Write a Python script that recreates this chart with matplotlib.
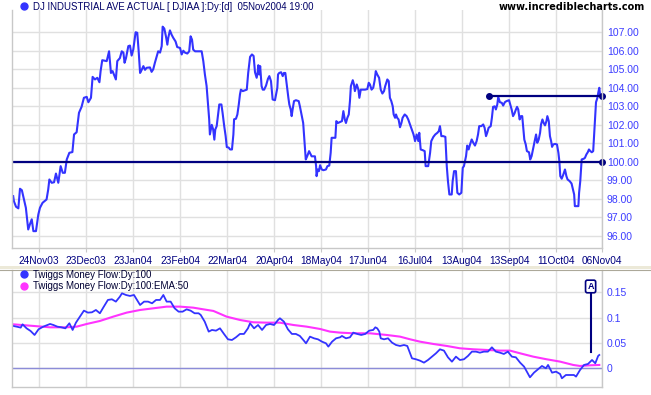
import matplotlib
matplotlib.use("Agg")
import matplotlib.pyplot as plt
from matplotlib.lines import Line2D
from matplotlib.patches import Rectangle

# x is the trading-day index, day 0 = 07Nov03
price_day = [0.0, 0.3, 1.2, 2.2, 2.9, 3.7, 4.6, 5.4, 6.4, 7.1, 7.9, 8.6, 9.7, 10.7, 11.4,
             12.5, 14.2, 14.9, 15.4, 16.4, 17.4, 18.2, 19.2, 20.2, 21.1, 22.0, 22.8, 23.9,
             25.2, 25.9, 27.0, 28.0, 29.1, 30.1, 31.3, 32.0, 33.1, 33.8, 34.8, 35.8, 36.7,
             37.2, 37.9, 39.8, 40.8, 41.6, 42.3, 42.9, 43.7, 44.3, 45.4, 46.2, 46.9, 47.4,
             48.0, 49.0, 49.7, 50.4, 51.1, 51.7, 52.1, 52.8, 53.4, 54.0, 54.7, 55.4, 56.1,
             56.8, 58.2, 58.9, 59.6, 60.3, 61.1, 61.7, 62.5, 63.2, 63.6, 64.3, 65.0, 65.6,
             66.0, 66.7, 67.4, 68.1, 69.1, 69.8, 71.0, 71.7, 72.4, 73.1, 74.1, 74.9, 75.5,
             76.1, 76.6, 77.4, 80.2, 80.9, 81.6, 82.3, 82.9, 83.4, 83.7, 84.5, 85.1, 85.6,
             86.0, 86.6, 87.1, 87.7, 88.6, 89.1, 89.8, 90.4, 90.9, 91.7, 92.3, 93.1, 93.7,
             94.0, 94.8, 95.4, 96.0, 96.5, 96.9, 97.7, 98.6, 99.4, 100.0, 100.8, 101.6,
             102.3, 102.9, 103.6, 104.0, 104.3, 104.7, 105.1, 105.7, 106.2, 106.8, 107.6,
             108.4, 109.0, 109.7, 110.4, 111.4, 112.4, 112.7, 113.2, 114.0, 114.7, 115.2,
             115.8, 116.4, 117.1, 117.5, 118.1, 118.5, 118.9, 119.5, 120.3, 121.5, 122.0,
             122.8, 123.4, 123.9, 124.5, 125.1, 125.9, 126.6, 127.0, 128.4, 128.9, 129.1,
             129.6, 130.1, 130.6, 131.3, 132.0, 133.1, 133.7, 134.5, 135.1, 135.5, 137.1,
             137.5, 138.2, 139.1, 139.9, 140.5, 141.1, 141.6, 142.2, 142.8, 143.3, 143.7,
             144.5, 145.0, 145.4, 146.2, 146.9, 147.3, 147.9, 149.7, 150.7, 151.3, 151.8,
             152.5, 153.2, 153.8, 154.3, 154.9, 155.7, 156.4, 157.1, 157.8, 158.3, 159.2,
             159.8, 160.3, 160.9, 161.5, 161.9, 162.5, 162.9, 163.4, 164.0, 164.6, 165.2,
             165.7, 166.6, 167.4, 168.1, 168.9, 169.6, 170.3, 170.7, 171.0, 171.7, 172.4,
             172.8, 173.4, 174.3, 175.1, 175.5, 176.6, 177.4, 177.9, 178.8, 179.6, 180.5,
             181.1, 181.6, 182.2, 183.0, 183.9, 184.5, 185.0, 185.6, 186.6, 187.0, 187.6,
             188.4, 189.0, 189.8, 190.7, 191.3, 191.8, 192.7, 193.2, 193.8, 194.4, 195.1,
             195.8, 196.5, 197.2, 197.8, 198.3, 199.2, 200.0, 200.6, 201.2, 201.7, 202.3,
             203.2, 203.7, 204.2, 204.9, 205.4, 206.0, 206.4, 207.1, 207.9, 208.5, 209.2,
             209.9, 211.0, 211.5, 212.1, 212.7, 213.3, 213.8, 214.4, 214.9, 215.5, 216.1,
             216.6, 217.0, 217.5, 218.1, 218.6, 219.5, 220.0, 220.6, 221.3, 221.9, 222.5,
             223.0, 223.6, 224.2, 224.6, 225.2, 225.7, 226.3, 226.9, 227.3, 227.9, 228.4,
             228.9, 229.3, 229.8, 230.6, 231.4, 232.0, 232.4, 232.8, 233.4, 234.1, 234.8,
             235.4, 235.9, 236.8, 237.6, 238.2, 238.7, 239.0, 240.5, 240.8, 241.3, 241.9,
             242.8, 243.3, 243.9, 244.5, 245.0, 245.6, 246.2, 246.8, 247.0, 247.6, 248.0,
             248.6, 249.0, 249.4, 249.7]
price_val = [98.15, 97.88, 97.58, 97.49, 98.55, 98.47, 97.97, 97.52, 96.35, 96.62, 96.90,
             96.26, 96.26, 97.16, 97.52, 97.79, 97.97, 98.50, 99.05, 98.87, 98.90, 99.37,
             98.87, 99.77, 99.41, 99.41, 100.13, 100.49, 100.53, 101.48, 101.60, 102.65,
             102.97, 103.46, 103.51, 103.22, 103.46, 104.59, 104.45, 104.54, 104.30, 104.90,
             105.49, 105.44, 105.97, 104.80, 104.90, 104.70, 104.45, 105.44, 105.60, 105.97,
             105.90, 105.35, 105.60, 106.25, 106.28, 105.74, 106.06, 106.60, 107.00, 106.97,
             105.97, 104.80, 104.97, 105.17, 104.97, 105.08, 105.10, 104.86, 105.00, 105.35,
             105.70, 105.97, 105.90, 106.25, 107.30, 107.20, 106.78, 106.33, 106.70, 107.10,
             106.87, 106.70, 106.50, 106.20, 106.15, 105.80, 106.00, 105.90, 105.85, 105.97,
             106.78, 106.60, 106.06, 105.97, 105.97, 105.44, 104.70, 104.10, 103.10, 102.30,
             101.48, 102.00, 101.75, 101.20, 101.75, 101.93, 102.47, 103.10, 103.10, 102.65,
             101.93, 101.40, 100.80, 100.77, 100.67, 100.67, 101.48, 102.30, 102.33, 102.56,
             103.10, 103.64, 103.90, 103.82, 103.86, 103.90, 104.80, 105.67, 105.80, 105.72,
             104.84, 104.54, 104.80, 105.22, 104.72, 105.17, 104.09, 103.90, 103.90, 104.12,
             104.48, 104.63, 104.36, 103.37, 103.33, 104.00, 104.72, 104.80, 104.84, 104.63,
             104.80, 104.80, 104.18, 103.46, 103.10, 102.83, 102.47, 102.83, 103.28, 103.33,
             103.28, 103.00, 102.47, 102.10, 101.20, 100.13, 100.30, 100.58, 100.40, 100.30,
             100.30, 99.77, 99.23, 99.59, 99.50, 99.82, 99.59, 99.55, 99.59, 99.77, 99.80,
             100.49, 101.30, 101.30, 102.20, 102.10, 102.15, 102.20, 102.74, 102.29, 102.10,
             102.38, 102.56, 103.28, 104.09, 104.41, 104.18, 103.82, 104.18, 103.90, 103.46,
             103.90, 103.90, 103.93, 104.27, 104.18, 103.90, 104.00, 104.39, 104.90, 104.72,
             104.54, 103.90, 103.69, 103.82, 104.09, 104.45, 104.36, 103.46, 103.28, 103.00,
             102.56, 102.38, 102.56, 102.38, 102.29, 101.87, 102.10, 102.38, 102.56, 102.47,
             102.29, 102.00, 101.75, 101.50, 101.30, 101.12, 101.48, 101.12, 101.57, 100.67,
             100.63, 100.58, 99.77, 99.77, 100.49, 101.12, 101.35, 101.48, 101.57, 101.66,
             101.93, 101.39, 101.39, 101.35, 99.77, 98.96, 98.24, 98.24, 98.96, 99.50, 99.50,
             98.33, 98.24, 98.33, 99.68, 99.77, 100.31, 100.88, 100.67, 100.94, 101.21,
             101.03, 100.88, 101.12, 101.48, 101.93, 101.93, 102.02, 101.84, 101.39, 101.57,
             101.84, 101.93, 102.38, 102.97, 103.00, 102.83, 103.10, 103.51, 103.22, 103.19,
             103.04, 103.22, 103.28, 103.33, 103.10, 102.83, 102.47, 102.61, 102.79, 102.97,
             102.83, 102.29, 102.47, 102.47, 101.93, 101.20, 100.94, 100.58, 100.52, 100.13,
             100.31, 100.76, 101.12, 101.48, 101.03, 101.20, 101.57, 102.02, 102.29, 102.11,
             101.97, 102.20, 102.47, 102.20, 101.39, 101.12, 100.81, 100.94, 100.97, 100.94,
             100.49, 100.04, 99.23, 99.09, 99.32, 99.59, 99.23, 99.05, 98.96, 98.83, 98.50,
             98.24, 97.61, 97.61, 98.33, 98.96, 100.13, 100.17, 100.22, 100.40, 100.52,
             100.67, 100.58, 100.52, 100.58, 101.03, 102.47, 103.22, 103.46, 103.76, 104.00,
             103.64]

tmf_day = [0.0, 1.5, 3.2, 4.0, 5.7, 7.4, 9.1, 10.8, 12.8, 15.7, 17.1, 18.8, 20.5, 22.2,
           23.9, 25.3, 26.7, 28.4, 30.1, 31.8, 33.5, 35.2, 36.9, 38.4, 40.3, 42.0, 43.7,
           45.4, 46.3, 48.0, 49.7, 51.4, 53.1, 54.0, 55.7, 57.4, 59.1, 60.8, 62.5, 63.9,
           65.3, 67.0, 68.7, 70.4, 72.1, 73.8, 75.5, 77.2, 78.9, 79.8, 81.5, 83.2, 84.6,
           86.3, 88.0, 89.7, 91.4, 93.1, 94.8, 96.5, 98.2, 99.9, 100.8, 102.5, 104.2, 105.9,
           107.6, 109.3, 111.0, 112.7, 113.5, 115.2, 116.9, 118.6, 120.3, 122.0, 123.7,
           124.6, 126.3, 128.0, 129.7, 131.4, 133.1, 134.1, 135.7, 137.4, 139.1, 139.9,
           141.6, 143.3, 144.7, 146.4, 148.1, 149.8, 151.5, 153.2, 154.1, 154.9, 155.8,
           156.4, 157.8, 159.5, 161.2, 162.9, 164.6, 166.3, 167.7, 168.9, 169.7, 171.4,
           173.1, 174.8, 176.5, 178.2, 179.9, 181.6, 183.3, 185.0, 186.7, 188.4, 190.1,
           191.8, 193.5, 195.2, 196.9, 198.6, 200.3, 202.0, 203.7, 205.4, 207.1, 208.8,
           210.5, 212.2, 213.9, 215.7, 217.4, 219.1, 219.9, 221.6, 223.3, 225.0, 226.7,
           227.6, 229.3, 231.0, 232.7, 233.5, 235.2, 236.9, 238.6, 239.5, 241.2, 242.9,
           244.6, 246.3, 247.7, 248.9, 249.4]
tmf_val = [0.0836, 0.0822, 0.0803, 0.0868, 0.0789, 0.0737, 0.0658, 0.0770, 0.0822, 0.0875,
           0.0855, 0.0822, 0.0809, 0.0789, 0.0888, 0.0757, 0.0901, 0.1020, 0.1138, 0.1099,
           0.1105, 0.1151, 0.1086, 0.1204, 0.1349, 0.1362, 0.1316, 0.1414, 0.1480, 0.1447,
           0.1428, 0.1447, 0.1316, 0.1250, 0.1316, 0.1316, 0.1283, 0.1349, 0.1349, 0.1447,
           0.1316, 0.1316, 0.1184, 0.1118, 0.1118, 0.1164, 0.1138, 0.1086, 0.1086, 0.1053,
           0.0921, 0.0724, 0.0757, 0.0743, 0.0789, 0.0678, 0.0572, 0.0559, 0.0612, 0.0678,
           0.0678, 0.0789, 0.0888, 0.0789, 0.0855, 0.0757, 0.0855, 0.0875, 0.0855, 0.0954,
           0.0987, 0.0921, 0.0770, 0.0678, 0.0678, 0.0638, 0.0546, 0.0493, 0.0625, 0.0592,
           0.0572, 0.0526, 0.0493, 0.0428, 0.0526, 0.0592, 0.0612, 0.0638, 0.0592, 0.0612,
           0.0704, 0.0678, 0.0658, 0.0678, 0.0743, 0.0757, 0.0809, 0.0789, 0.0724, 0.0592,
           0.0572, 0.0592, 0.0507, 0.0460, 0.0441, 0.0460, 0.0441, 0.0296, 0.0197, 0.0178,
           0.0151, 0.0112, 0.0164, 0.0230, 0.0296, 0.0375, 0.0349, 0.0217, 0.0131, 0.0230,
           0.0164, 0.0178, 0.0243, 0.0329, 0.0329, 0.0309, 0.0329, 0.0329, 0.0414, 0.0329,
           0.0309, 0.0283, 0.0329, 0.0230, 0.0217, 0.0112, 0.0033, -0.0112, -0.0178, -0.0086,
           -0.0020, 0.0046, 0.0000, 0.0066, -0.0086, -0.0066, -0.0112, -0.0197, -0.0132,
           -0.0132, -0.0132, -0.0164, -0.0033, 0.0066, 0.0086, 0.0164, 0.0099, 0.0243, 0.0263]

ema_day = [0.0, 8.6, 15.7, 22.8, 27.0, 31.3, 36.9, 42.6, 48.3, 54.0, 59.6, 65.3, 71.0, 76.6,
           80.9, 85.2, 90.8, 96.5, 102.2, 107.8, 113.5, 119.2, 124.9, 130.6, 134.8, 139.1,
           144.7, 151.8, 158.9, 164.6, 168.9, 173.1, 178.8, 184.5, 190.1, 195.8, 201.5,
           207.2, 211.4, 215.7, 221.3, 227.0, 232.7, 238.3, 241.2, 245.4, 249.4]
ema_val = [0.0868, 0.0836, 0.0809, 0.0809, 0.0822, 0.0875, 0.0934, 0.1020, 0.1099, 0.1151,
           0.1184, 0.1217, 0.1217, 0.1197, 0.1164, 0.1132, 0.1020, 0.0954, 0.0908, 0.0901,
           0.0901, 0.0855, 0.0822, 0.0776, 0.0724, 0.0704, 0.0691, 0.0691, 0.0658, 0.0625,
           0.0572, 0.0526, 0.0480, 0.0441, 0.0395, 0.0375, 0.0362, 0.0349, 0.0349, 0.0296,
           0.0230, 0.0178, 0.0132, 0.0066, 0.0046, 0.0059, 0.0066]

tick_days = [11, 31, 51, 71, 91, 111, 131, 151, 171, 191, 211, 231, 250.5]
tick_labels = ['24Nov03', '23Dec03', '23Jan04', '23Feb04', '22Mar04', '20Apr04', '18May04',
               '17Jun04', '16Jul04', '13Aug04', '13Sep04', '11Oct04', '06Nov04']
price_ticks = [96, 97, 98, 99, 100, 101, 102, 103, 104, 105, 106, 107]
tmf_ticks = [0, 0.05, 0.1, 0.15]
tmf_tick_labels = ['0', '0.05', '0.1', '0.15']

support_level = 100.0
resist_level = 103.55
resist_start = 202.6
signal_day = 245.7
signal_top = 0.151
signal_bottom = 0.033

BLUE = '#3333ff'
NAVY = '#000080'
MAGENTA = '#ff33ff'
GRID = '#e0e0e0'
SPINE = '#c8c8c8'
W, H = 651, 395
XMIN, XMAX = -0.5, 250.55


def px_box(left, top, right, bottom):
    # pixel box -> figure fraction rect
    return [left / W, 1 - bottom / H, (right - left) / W, (bottom - top) / H]


def style_axes(ax):
    ax.set_xlim(XMIN, XMAX)
    ax.yaxis.tick_right()
    ax.spines['top'].set_visible(False)
    for s in ('left', 'right', 'bottom'):
        ax.spines[s].set_color(SPINE)
        ax.spines[s].set_linewidth(1.0)
    ax.grid(True, color=GRID, lw=1.0)
    ax.set_axisbelow(True)
    ax.set_xticks(tick_days)
    ax.tick_params(axis='y', length=0, pad=3.5, labelsize=7.5, labelcolor='#3c3cff')
    ax.tick_params(axis='x', length=3, color=SPINE, pad=3, labelsize=7.3, labelcolor=NAVY)


plt.rcParams['font.family'] = ['Liberation Sans', 'DejaVu Sans']
fig = plt.figure(figsize=(W / 100, H / 100), dpi=100)
fig.patch.set_facecolor('white')

# price panel
ax1 = fig.add_axes(px_box(12, 10, 602, 248))
style_axes(ax1)
ax1.set_ylim(95.35, 108.2)
ax1.set_yticks(price_ticks, ['%.2f' % v for v in price_ticks])
ax1.set_xticklabels(tick_labels)
ax1.plot(price_day, price_val, color=BLUE, lw=1.5)
ax1.axhline(support_level, color=NAVY, lw=1.6)
ax1.plot([XMAX], [support_level], 'o', ms=4, color=NAVY, clip_on=False)
ax1.plot([resist_start, XMAX], [resist_level, resist_level], color=NAVY, lw=1.6,
         marker='o', ms=4, clip_on=False)

# money flow panel
ax2 = fig.add_axes(px_box(12, 270, 602, 386.7))
style_axes(ax2)
ax2.set_ylim(-0.0363, 0.194)
ax2.set_yticks(tmf_ticks, tmf_tick_labels)
ax2.set_xticklabels([])
ax2.tick_params(axis='x', length=0)
ax2.axhline(0, color='#8c8cd8', lw=1.0)
ax2.plot(ema_day, ema_val, color=MAGENTA, lw=1.5)
ax2.plot(tmf_day, tmf_val, color=BLUE, lw=1.3)
ax2.plot([signal_day, signal_day], [signal_bottom, signal_top], color=NAVY, lw=1.5)
ax2.text(signal_day, 0.1615, 'A', ha='center', va='center', fontsize=6.5, color=NAVY,
         fontweight='bold',
         bbox=dict(boxstyle='round,pad=0.2', fc='white', ec=NAVY, lw=1.2))

# panel separator
fig.add_artist(Rectangle((0, 1 - 269 / H), 1, 3 / H, transform=fig.transFigure,
                         color='#ece9d8', lw=0))
fig.add_artist(Line2D([0, 1], [1 - 269.5 / H] * 2, transform=fig.transFigure,
                      color='#aca899', lw=0.8))

# headers and legend
fig.add_artist(Line2D([24 / W], [1 - 6 / H], marker='o', ms=5, color=BLUE,
                      transform=fig.transFigure))
fig.text(33 / W, 1 - 6.5 / H, 'DJ INDUSTRIAL AVE ACTUAL [ DJIAA ]:Dy:[d]  05Nov2004 19:00',
         ha='left', va='center', fontsize=6.9, color='#000066')
fig.text(645 / W, 1 - 7 / H, 'www.incrediblecharts.com', ha='right', va='center',
         fontsize=7.05, fontweight='bold', color='black', family='DejaVu Sans')
fig.add_artist(Line2D([24 / W], [1 - 274 / H], marker='o', ms=5, color=BLUE,
                      transform=fig.transFigure))
fig.text(33 / W, 1 - 274.5 / H, 'Twiggs Money Flow:Dy:100', ha='left', va='center',
         fontsize=7.05, color='#000033')
fig.add_artist(Line2D([24 / W], [1 - 285.7 / H], marker='o', ms=5, color=MAGENTA,
                      transform=fig.transFigure))
fig.text(33 / W, 1 - 286 / H, 'Twiggs Money Flow:Dy:100:EMA:50', ha='left', va='center',
         fontsize=7.05, color='#000033')

fig.savefig('out.png', dpi=100, facecolor='white')
